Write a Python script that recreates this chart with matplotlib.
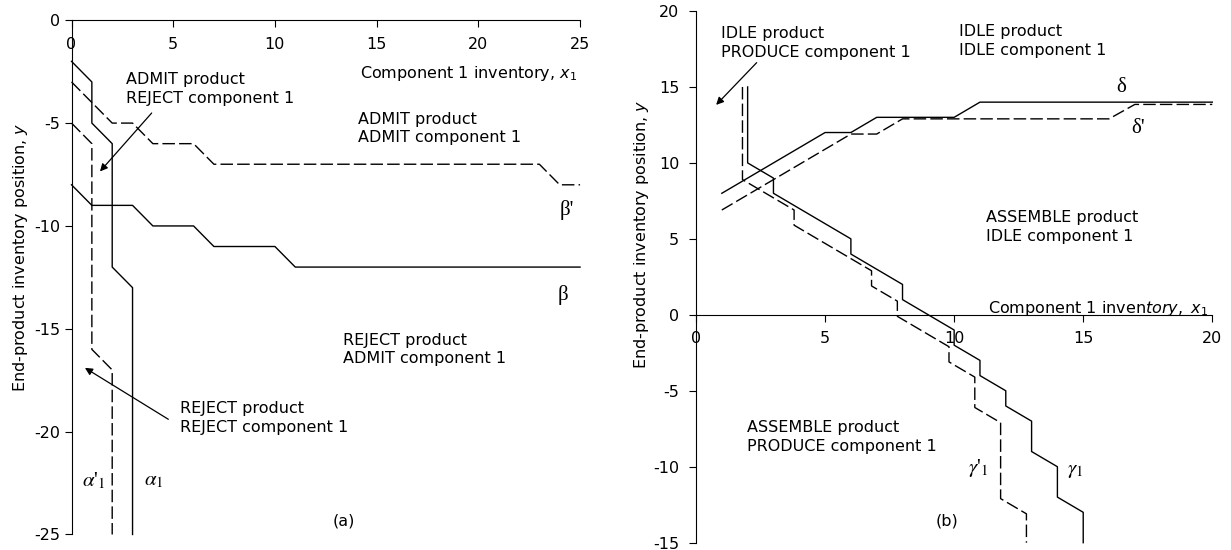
import matplotlib
matplotlib.use('Agg')
import matplotlib.pyplot as plt

plt.rcParams['font.family'] = ['DejaVu Sans']
plt.rcParams['font.size'] = 11.5
plt.rcParams['axes.unicode_minus'] = False

# (a) switching curves
alpha1_x = [0, 1, 1, 2, 2, 3, 3]
alpha1_y = [-2, -3, -5, -6, -12, -13, -25]
alpha1p_x = [0, 1, 1, 2, 2]
alpha1p_y = [-5, -6, -16, -17, -25]
beta_x = [0, 1, 3, 4, 6, 7, 10, 11, 25]
beta_y = [-8, -9, -9, -10, -10, -11, -11, -12, -12]
betap_x = [0, 1, 2, 3, 4, 6, 7, 23, 24, 25]
betap_y = [-3, -4, -5, -5, -6, -6, -7, -7, -8, -8]
a_xticks = [0, 5, 10, 15, 20, 25]
a_yticks = [0, -5, -10, -15, -20, -25]

# (b) switching curves
gamma1_x = [2, 2, 3, 3, 6, 6, 8, 8, 10, 10, 11, 11, 12, 12, 13, 13, 14, 14, 15, 15]
gamma1_y = [15, 10, 9, 8, 5, 4, 2, 1, -1, -2, -3, -4, -5, -6, -7, -9, -10, -12, -13, -15]
gamma1p_x = [1.8, 1.8, 3.8, 3.8, 6.8, 6.8, 7.8, 7.8, 9.8, 9.8, 10.8, 10.8, 11.8, 11.8, 12.8, 12.8]
gamma1p_y = [15, 8.9, 6.9, 5.9, 2.9, 1.9, 0.9, -0.1, -2.1, -3.1, -4.1, -6.1, -7.1, -12.1, -13.1, -15]
delta_x = [1, 5, 6, 7, 10, 11, 20]
delta_y = [8, 12, 12, 13, 13, 14, 14]
deltap_x = [1, 6, 7, 8, 16, 17, 20]
deltap_y = [6.9, 11.9, 11.9, 12.9, 12.9, 13.85, 13.85]
b_xticks = [0, 5, 10, 15, 20]
b_yticks = [-15, -10, -5, 0, 5, 10, 15, 20]

fig = plt.figure(figsize=(12.31, 5.5), dpi=100)
ax1 = fig.add_axes([0.0581, 0.0282, 0.4131, 0.935])
ax2 = fig.add_axes([0.5654, 0.0133, 0.4194, 0.9667])

solid = dict(color='black', lw=1.0, clip_on=False)
dashed = dict(color='black', lw=1.0, clip_on=False, dashes=(9, 3))
arrow = dict(arrowstyle='-|>', color='black', lw=0.9, mutation_scale=11, shrinkA=0, shrinkB=0)
greek = dict(family='Liberation Serif', fontsize=15, ha='center', va='center')
mgreek = dict(family='Liberation Serif', math_fontfamily='stix', fontsize=15, ha='center', va='center')

for ax in (ax1, ax2):
    ax.spines['top'].set_visible(False)
    ax.spines['right'].set_visible(False)
    ax.spines['bottom'].set_position(('data', 0))
    ax.tick_params(axis='x', direction='out', length=5, pad=7)

# ---- panel (a)
ax1.plot(alpha1_x, alpha1_y, **solid)
ax1.plot(alpha1p_x, alpha1p_y, **dashed)
ax1.plot(beta_x, beta_y, **solid)
ax1.plot(betap_x, betap_y, **dashed)
ax1.set_xlim(0, 25)
ax1.set_ylim(-25, 0)
ax1.set_xticks(a_xticks)
ax1.set_yticks(a_yticks)
ax1.tick_params(axis='y', direction='out', length=5, pad=3)

ax1.text(14.19, -2.12, 'Component 1 inventory, $x_1$', va='top', ha='left')
ax1.text(2.68, -2.54, 'ADMIT product\nREJECT component 1', va='top', ha='left', linespacing=1.3)
ax1.text(14.1, -4.44, 'ADMIT product\nADMIT component 1', va='top', ha='left', linespacing=1.3)
ax1.text(5.34, -18.51, 'REJECT product\nREJECT component 1', va='top', ha='left', linespacing=1.3)
ax1.text(13.37, -15.19, 'REJECT product\nADMIT component 1', va='top', ha='left', linespacing=1.3)
ax1.text(13.4, -24.33, '(a)', ha='center', va='center')
ax1.annotate('', xy=(1.4, -7.35), xytext=(3.94, -4.51), arrowprops=arrow)
ax1.annotate('', xy=(0.66, -16.9), xytext=(4.76, -19.4), arrowprops=arrow)
ax1.text(24.37, -9.24, "β'", **greek)
ax1.text(24.16, -13.38, 'β', **greek)
ax1.text(1.1, -22.41, "$\\alpha$'${}_1$", **mgreek)
ax1.text(4.06, -22.41, '$\\alpha_1$', **mgreek)
ax1.text(-0.10, 0.54, 'End-product inventory position, $y$', rotation=90,
         ha='center', va='center', transform=ax1.transAxes)

# ---- panel (b)
ax2.plot(gamma1_x, gamma1_y, **solid)
ax2.plot(gamma1p_x, gamma1p_y, **dashed)
ax2.plot(delta_x, delta_y, **solid)
ax2.plot(deltap_x, deltap_y, **dashed)
ax2.set_xlim(0, 20)
ax2.set_ylim(-15, 20)
ax2.set_xticks(b_xticks)
ax2.set_yticks(b_yticks)
ax2.tick_params(axis='y', direction='out', length=5, pad=7)

ax2.text(11.33, 1.03, 'Component 1 inven$\\mathit{tory,}$ $x_1$', va='top', ha='left')
ax2.text(0.96, 19.01, 'IDLE product\nPRODUCE component 1', va='top', ha='left', linespacing=1.3)
ax2.text(10.2, 19.12, 'IDLE product\nIDLE component 1', va='top', ha='left', linespacing=1.3)
ax2.text(11.24, 6.89, 'ASSEMBLE product\nIDLE component 1', va='top', ha='left', linespacing=1.3)
ax2.text(1.99, -6.93, 'ASSEMBLE product\nPRODUCE component 1', va='top', ha='left', linespacing=1.3)
ax2.text(9.72, -13.55, '(b)', ha='center', va='center')
ax2.annotate('', xy=(0.78, 13.82), xytext=(2.35, 16.6), arrowprops=arrow)
ax2.text(16.47, 14.98, 'δ', **greek)
ax2.text(17.13, 12.27, "δ'", **greek)
ax2.text(10.94, -10.1, "$\\gamma$'${}_1$", **mgreek)
ax2.text(14.69, -10.26, '$\\gamma_1$', **mgreek)
ax2.text(-0.1065, 0.58, 'End-product inventory position, $y$', rotation=90,
         ha='center', va='center', transform=ax2.transAxes)

fig.savefig('out.png', dpi=100)
